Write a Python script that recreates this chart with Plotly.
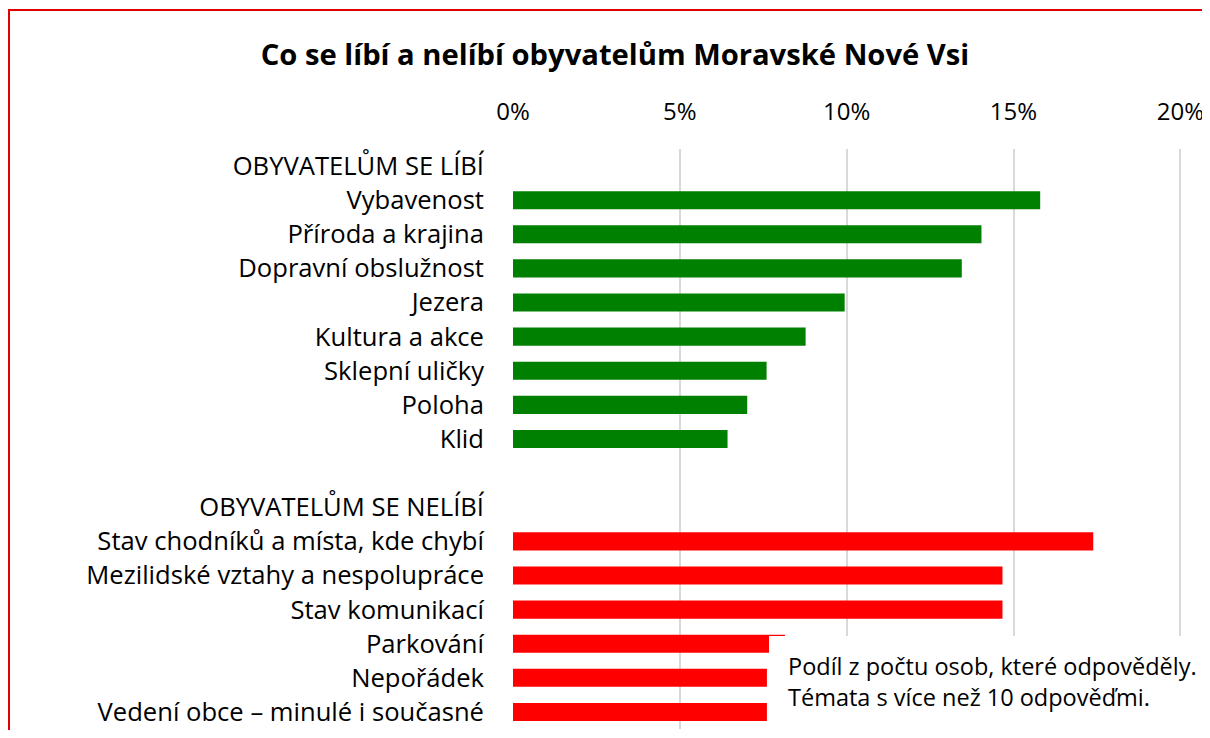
import plotly.graph_objects as go

title = "Co se líbí a nelíbí obyvatelům Moravské Nové Vsi"

like_header = "OBYVATELŮM SE LÍBÍ"
like_labels = ["Vybavenost", "Příroda a krajina", "Dopravní obslužnost", "Jezera",
               "Kultura a akce", "Sklepní uličky", "Poloha", "Klid"]
like_values = [0.158, 0.1404, 0.1345, 0.0994, 0.0877, 0.0760, 0.0702, 0.0643]

spacer = " "

dislike_header = "OBYVATELŮM SE NELÍBÍ"
dislike_labels = ["Stav chodníků a místa, kde chybí", "Mezilidské vztahy a nespolupráce",
                  "Stav komunikací", "Parkování", "Nepořádek",
                  "Vedení obce – minulé i současné"]
dislike_values = [0.1739, 0.1467, 0.1467, 0.0815, 0.0761, 0.0761]

note_text = "Podíl z počtu osob, které odpověděly.<br>Témata s více než 10 odpověďmi."

x_ticks = [0, 0.05, 0.10, 0.15, 0.20]
x_ticktext = ["0%", "5%", "10%", "15%", "20%"]

categories = [like_header] + like_labels + [spacer, dislike_header] + dislike_labels

FONT = "Open Sans"

fig = go.Figure()
fig.add_trace(go.Bar(
    y=like_labels, x=like_values, orientation="h",
    marker=dict(color="#008000", line=dict(width=0)),
    width=0.53, showlegend=False, hoverinfo="x+y",
))
fig.add_trace(go.Bar(
    y=dislike_labels, x=dislike_values, orientation="h",
    marker=dict(color="#ff0000", line=dict(width=0)),
    width=0.53, showlegend=False, hoverinfo="x+y",
))

# page has an 8px body margin; figure coordinates = page coordinates - 8
W, H = 1202, 722
L, R, T, B = 505, 28, 141, 1
pw, ph = W - L - R, H - T - B

def px_x(px):
    return (px - L) / pw

def px_y(py):
    return (H - B - py) / ph

fig.update_layout(
    width=W, height=H,
    margin=dict(l=L, r=R, t=T, b=B, autoexpand=False),
    paper_bgcolor="white", plot_bgcolor="white",
    barmode="overlay",
    font=dict(family=FONT, color="black", size=24),
    title=dict(text=f"<b>{title}</b>", x=607 / W, xanchor="center",
               y=1 - 47 / H, yanchor="middle", xref="container", yref="container",
               font=dict(family=FONT, size=29.2, color="black")),
    xaxis=dict(side="top", range=[0, 0.2005], tickvals=x_ticks, ticktext=x_ticktext,
               showgrid=True, gridcolor="#d9d9d9", gridwidth=1.5,
               zeroline=False, showline=False, ticks="", ticklabelstandoff=23,
               ticklabeloverflow="allow",
               tickfont=dict(size=24, family=FONT), fixedrange=True),
    yaxis=dict(type="category", categoryorder="array", categoryarray=categories,
               tickvals=categories, ticktext=categories,
               range=[len(categories) - 0.5, -0.5], showgrid=False, zeroline=False,
               showline=False, ticks="", ticklabelstandoff=28,
               tickfont=dict(size=25.6, family=FONT), fixedrange=True),
    shapes=[
        dict(type="rect", xref="paper", yref="paper",
             x0=px_x(761), x1=px_x(1260), y0=px_y(760), y1=px_y(628),
             fillcolor="white", line=dict(width=0), layer="above"),
        dict(type="rect", xref="paper", yref="paper",
             x0=px_x(1), x1=px_x(1260), y0=px_y(800), y1=px_y(2),
             fillcolor="rgba(0,0,0,0)", line=dict(color="#e00000", width=2), layer="above"),
    ],
    annotations=[
        dict(text=note_text, xref="paper", yref="paper", x=px_x(778), y=px_y(673),
             xanchor="left", yanchor="middle", align="left", showarrow=False,
             font=dict(family=FONT, size=23.5, color="black")),
    ],
)

fig.write_html("out.html")
